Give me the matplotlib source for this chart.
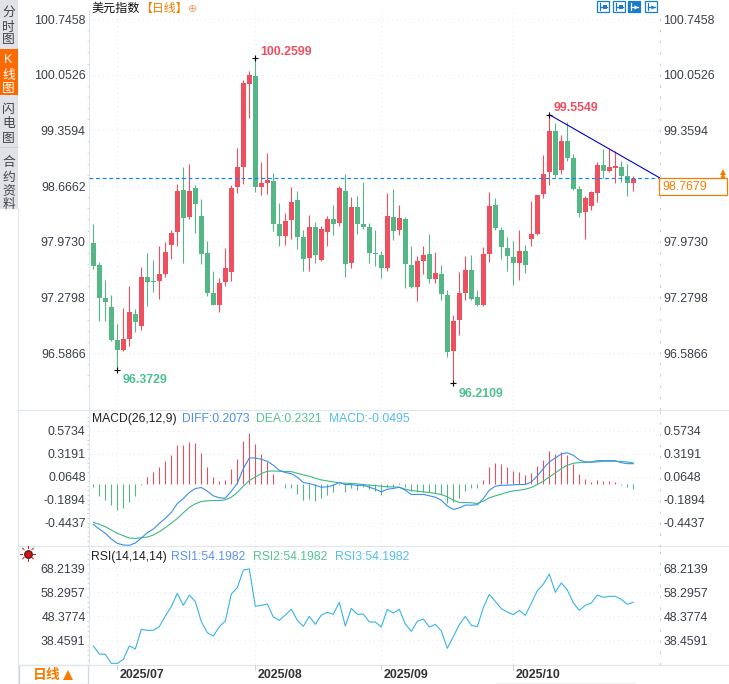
import matplotlib
matplotlib.use("Agg")
import matplotlib.pyplot as plt
from matplotlib.patches import Rectangle
from matplotlib.ticker import FixedLocator
import numpy as np

plt.rcParams["font.family"] = ["Liberation Sans", "Noto Sans CJK SC", "DejaVu Sans"]

# daily candles
open_ = [97.96, 97.68, 97.27, 97.16, 96.75, 96.62, 96.76, 97.07, 96.92, 97.53,
         97.48, 97.48, 97.57, 97.93, 98.09, 98.62, 98.28, 98.64, 98.29, 97.83,
         97.33, 97.18, 97.47, 97.60, 98.65, 98.90, 99.94, 100.04, 98.65, 98.70,
         98.73, 98.19, 98.04, 98.24, 98.49, 98.03, 97.77, 98.16, 97.75, 98.09,
         98.26, 98.21, 98.60, 97.71, 98.40, 98.19, 98.16, 97.83, 97.81, 97.65,
         98.28, 98.12, 98.26, 97.68, 97.41, 97.73, 97.82, 97.51, 97.57, 97.31,
         96.61, 97.00, 97.33, 97.62, 97.28, 97.18, 97.82, 98.43, 98.12, 97.89,
         97.78, 97.71, 97.86, 98.01, 98.07, 98.57, 98.84, 99.35, 98.87, 99.23,
         99.01, 98.63, 98.34, 98.42, 98.58, 98.93, 98.85, 98.89, 98.90, 98.79,
         98.70]
high = [98.19, 97.72, 97.50, 97.31, 96.95, 97.15, 97.42, 97.14, 97.66, 97.83,
        97.75, 97.92, 97.97, 98.12, 98.69, 98.90, 98.94, 98.68, 98.50, 97.98,
        97.61, 97.52, 97.89, 98.68, 99.14, 99.99, 100.10, 100.2599, 98.97, 99.08,
        98.83, 98.45, 98.33, 98.65, 98.60, 98.12, 98.31, 98.22, 98.17, 98.29,
        98.43, 98.67, 98.82, 98.53, 98.54, 98.72, 98.21, 98.12, 97.86, 98.58,
        98.63, 98.43, 98.28, 97.92, 97.80, 97.92, 98.07, 97.84, 97.68, 97.37,
        97.06, 97.60, 97.80, 97.81, 97.37, 97.91, 98.59, 98.52, 98.16, 98.03,
        97.98, 98.12, 97.93, 98.48, 98.56, 99.05, 99.5549, 99.45, 99.30, 99.46,
        99.06, 98.67, 98.54, 98.60, 98.97, 99.13, 99.13, 99.10, 98.98, 98.94,
        98.79]
low = [97.63, 96.99, 96.99, 96.74, 96.3729, 96.61, 96.67, 96.85, 96.87, 97.17,
       97.35, 97.26, 97.53, 97.76, 97.92, 97.71, 98.26, 98.08, 97.70, 97.30,
       97.18, 97.10, 97.42, 97.48, 98.58, 98.69, 99.51, 98.59, 98.55, 98.57,
       98.11, 97.92, 97.93, 98.01, 97.88, 97.61, 97.61, 97.71, 97.73, 97.92,
       98.06, 98.17, 97.53, 97.65, 98.07, 98.13, 97.71, 97.67, 97.52, 97.61,
       97.99, 98.06, 97.40, 97.40, 97.23, 97.57, 97.46, 97.46, 97.25, 96.54,
       96.2109, 96.81, 97.25, 97.25, 97.17, 97.17, 97.72, 98.12, 97.76, 97.61,
       97.43, 97.50, 97.58, 97.92, 98.06, 98.52, 98.68, 98.78, 98.82, 98.98,
       98.62, 98.28, 98.01, 98.37, 98.47, 98.77, 98.84, 98.70, 98.72, 98.54,
       98.60]
close = [97.67, 97.27, 97.22, 96.75, 96.62, 96.76, 97.10, 96.97, 97.53, 97.47,
         97.47, 97.57, 97.84, 98.08, 98.60, 98.27, 98.60, 98.44, 97.82, 97.33,
         97.18, 97.46, 97.65, 98.64, 98.90, 99.95, 100.05, 98.65, 98.70, 98.74,
         98.19, 98.04, 98.23, 98.47, 98.03, 97.76, 98.16, 97.81, 98.13, 98.26,
         98.19, 98.64, 97.70, 98.40, 98.19, 98.16, 97.83, 97.82, 97.65, 98.29,
         98.11, 98.27, 97.70, 97.41, 97.73, 97.81, 97.51, 97.58, 97.32, 96.60,
         96.99, 97.33, 97.62, 97.26, 97.18, 97.82, 98.42, 98.14, 97.91, 97.79,
         97.71, 97.86, 97.68, 98.07, 98.55, 98.82, 99.35, 98.80, 99.23, 99.01,
         98.63, 98.33, 98.52, 98.59, 98.93, 98.85, 98.90, 98.92, 98.79, 98.70,
         98.75]

diff = [-0.464, -0.516, -0.563, -0.626, -0.674, -0.692, -0.696, -0.670, -0.615, -0.556,
        -0.516, -0.453, -0.398, -0.332, -0.233, -0.178, -0.111, -0.067, -0.056, -0.097,
        -0.148, -0.170, -0.174, -0.097, -0.009, 0.153, 0.271, 0.271, 0.256, 0.234,
        0.190, 0.135, 0.109, 0.098, 0.058, -0.001, -0.012, -0.031, -0.053, -0.049,
        -0.031, -0.001, -0.023, -0.023, -0.034, -0.031, -0.053, -0.075, -0.104, -0.075,
        -0.067, -0.053, -0.086, -0.133, -0.133, -0.133, -0.148, -0.163, -0.196, -0.262,
        -0.299, -0.281, -0.251, -0.251, -0.247, -0.178, -0.086, -0.042, -0.031, -0.031,
        -0.027, -0.023, -0.023, 0.006, 0.072, 0.153, 0.227, 0.271, 0.315, 0.329,
        0.300, 0.249, 0.227, 0.227, 0.241, 0.241, 0.241, 0.241, 0.219, 0.208,
        0.2073]
dea = [-0.442, -0.464, -0.490, -0.527, -0.563, -0.589, -0.615, -0.619, -0.611, -0.604,
       -0.582, -0.545, -0.501, -0.450, -0.398, -0.336, -0.277, -0.236, -0.211, -0.203,
       -0.200, -0.200, -0.192, -0.163, -0.111, -0.042, 0.021, 0.061, 0.098, 0.124,
       0.127, 0.124, 0.120, 0.120, 0.102, 0.083, 0.069, 0.047, 0.028, 0.017,
       0.006, -0.005, -0.009, -0.012, -0.016, -0.023, -0.031, -0.034, -0.042, -0.049,
       -0.049, -0.053, -0.075, -0.089, -0.097, -0.104, -0.111, -0.122, -0.133, -0.159,
       -0.196, -0.222, -0.222, -0.225, -0.233, -0.207, -0.170, -0.148, -0.130, -0.108,
       -0.093, -0.086, -0.075, -0.056, -0.023, 0.013, 0.061, 0.105, 0.153, 0.190,
       0.212, 0.219, 0.223, 0.223, 0.227, 0.234, 0.234, 0.234, 0.230, 0.227,
       0.216]
hist = [-0.033, -0.125, -0.169, -0.235, -0.290, -0.265, -0.191, -0.132, -0.011, 0.085,
        0.140, 0.195, 0.261, 0.327, 0.437, 0.437, 0.470, 0.459, 0.349, 0.195,
        0.085, 0.040, 0.051, 0.173, 0.283, 0.481, 0.570, 0.448, 0.338, 0.250,
        0.118, -0.002, -0.044, -0.044, -0.103, -0.169, -0.158, -0.180, -0.147, -0.114,
        -0.081, -0.004, -0.081, -0.037, -0.059, -0.030, -0.051, -0.070, -0.118, -0.033,
        -0.033, 0.018, -0.033, -0.070, -0.081, -0.081, -0.081, -0.096, -0.118, -0.206,
        -0.191, -0.154, -0.070, -0.044, -0.044, 0.051, 0.195, 0.239, 0.228, 0.195,
        0.151, 0.140, 0.107, 0.129, 0.206, 0.272, 0.371, 0.338, 0.360, 0.327,
        0.228, 0.118, 0.062, 0.029, 0.051, 0.040, 0.040, 0.029, -0.004, -0.033,
        -0.0495]
rsi = [36.12, 32.81, 32.67, 28.95, 28.95, 30.61, 36.12, 34.88, 43.01, 42.59,
       42.59, 44.11, 48.52, 52.37, 57.88, 52.93, 57.19, 54.44, 46.17, 41.63,
       40.25, 44.11, 46.45, 57.61, 60.22, 67.53, 67.94, 52.51, 52.93, 53.47,
       48.10, 46.72, 48.93, 51.27, 46.72, 44.24, 48.38, 45.07, 48.93, 50.03,
       49.21, 54.16, 44.38, 51.68, 49.21, 49.34, 46.04, 46.04, 43.97, 51.27,
       49.76, 51.27, 45.21, 42.18, 46.31, 47.28, 43.97, 45.07, 42.32, 35.15,
       39.97, 44.93, 48.38, 44.66, 44.11, 51.96, 57.47, 54.57, 51.55, 50.17,
       49.07, 50.86, 48.79, 53.75, 58.99, 61.60, 65.87, 58.30, 62.15, 59.26,
       54.03, 50.86, 52.93, 53.89, 57.19, 56.23, 56.64, 56.64, 55.40, 53.34,
       54.20]

price_ticks = [100.7458, 100.0526, 99.3594, 98.6662, 97.9730, 97.2798, 96.5866]
macd_ticks = [0.5734, 0.3191, 0.0648, -0.1894, -0.4437]
rsi_ticks = [68.2139, 58.2957, 48.3774, 38.4591]
month_pos = [4, 27, 48, 70]
month_labels = ["2025/07", "2025/08", "2025/09", "2025/10"]
last_price = 98.7679
hist_base = -0.02
trend_x = [76, 94.45]
trend_y = [99.5549, 98.766]

RED = "#ee5060"
GREEN = "#55b786"
ORANGE = "#f57c00"
GRID = "#e9edf1"
EDGE = "#dfe6ec"
TEXT = "#3a3f4a"
FS = 8.9
HEAD = 8.7
W, H = 729, 684

fig = plt.figure(figsize=(W / 100, H / 100), dpi=100, facecolor="white")

# page furniture in pixel coordinates
bg = fig.add_axes([0, 0, 1, 1])
bg.set_xlim(0, W)
bg.set_ylim(H, 0)
bg.axis("off")
bg.add_patch(Rectangle((0, 0), 18, 209, color="#e0e2e8", lw=0))
bg.add_patch(Rectangle((0, 49), 18, 46, color="#ff6a00", lw=0))
bg.plot([0, 18], [147, 147], color="#cfd2d9", lw=0.8)
bg.plot([18.5, 18.5], [209, H], color=EDGE, lw=0.8)
for yy in [409.5, 546, 664.5]:
    bg.plot([18, W], [yy, yy], color=EDGE, lw=0.8)
bg.add_patch(Rectangle((19.5, 665), 69, 18.5, fc="white", ec="#cfd7df", lw=0.9))
bg.plot([496, 635], [682.5, 682.5], color="#eef0f2", lw=0.8)

side = [("分", 12.5), ("时", 27.5), ("图", 40.5), ("闪", 110.5), ("电", 124.5), ("图", 139),
        ("合", 162.5), ("约", 177.5), ("资", 192.5), ("料", 204.5)]
for ch, yy in side:
    bg.text(8.5, yy, ch, ha="center", va="center", fontsize=9.2, color="#444")
for ch, yy in [("K", 60), ("线", 76), ("图", 89)]:
    bg.text(8.5, yy, ch, ha="center", va="center", fontsize=9.2, color="white")

bg.text(91, 9, "美元指数", ha="left", va="center", fontsize=8.7, color="#111")
bg.text(139.8, 9, "【日线】", ha="left", va="center", fontsize=8.6, color=ORANGE)
bg.text(192.8, 9.5, "⊕", ha="center", va="center", fontsize=8, color="#f0a070", family="DejaVu Sans")

bg.text(92, 419, "MACD(26,12,9)", ha="left", va="center", fontsize=HEAD, color="#222")
bg.text(182, 419, "DIFF:0.2073", ha="left", va="center", fontsize=HEAD, color="#4a90f0")
bg.text(256, 419, "DEA:0.2321", ha="left", va="center", fontsize=HEAD, color="#55c490")
bg.text(329, 419, "MACD:-0.0495", ha="left", va="center", fontsize=HEAD, color="#55bdf0")
bg.text(91.5, 557, "RSI(14,14,14)", ha="left", va="center", fontsize=HEAD, color="#222")
bg.text(171, 557, "RSI1:54.1982", ha="left", va="center", fontsize=HEAD, color="#5b94f5")
bg.text(253, 557, "RSI2:54.1982", ha="left", va="center", fontsize=HEAD, color="#55c490")
bg.text(335, 557, "RSI3:54.1982", ha="left", va="center", fontsize=HEAD, color="#55bdf0")

# little sun icon next to the RSI panel
bg.plot([28], [553.5], "o", ms=5.5, mfc="#e01010", mec="#222", mew=0.8)
for ang in np.deg2rad(np.arange(0, 360, 45)):
    bg.plot([28 + 5.5 * np.cos(ang), 28 + 7.5 * np.cos(ang)],
            [553.5 + 5.5 * np.sin(ang), 553.5 + 7.5 * np.sin(ang)], color="#e01010", lw=0.7)

bg.text(33, 675, "日线", ha="left", va="center", fontsize=10, color=ORANGE, weight="bold")
bg.plot([68], [675], "^", ms=6.5, color=ORANGE, mew=0)

# toolbar buttons
for k, xx in enumerate([597, 613, 628, 645]):
    fc = "#1a7cc8" if k == 2 else "white"
    lc = "white" if k == 2 else "#1a7cc8"
    bg.add_patch(Rectangle((xx, 1), 12, 11, fc=fc, ec="#1a7cc8", lw=0.9))
    bg.plot([xx + 3, xx + 3], [3, 10], color=lc, lw=0.9)
    bg.plot([xx + 3, xx + 10], [6.5, 6.5], color=lc, lw=0.9)
    bg.plot([xx + 8], [6.5], ">" if k > 1 else "s", ms=3, color=lc, mew=0)


def pixel_axes(top, bottom):
    ax = fig.add_axes([89 / W, 1 - bottom / H, (660 - 89) / W, (bottom - top) / H])
    ax.patch.set_alpha(0)
    ax.set_xlim(-0.72, 94.45)
    for s in ["top", "bottom"]:
        ax.spines[s].set_visible(False)
    ax.spines["left"].set_color(EDGE)
    ax.spines["left"].set_linewidth(0.8)
    ax.spines["right"].set_color("#c9ced4")
    ax.spines["right"].set_linewidth(0.8)
    ax.spines["right"].set_linestyle((0, (1, 9)))
    ax.grid(True, which="major", color=GRID, lw=0.8, ls=(0, (1, 3)))
    ax.set_axisbelow(True)
    ax.set_xticks(month_pos)
    ax.set_xticklabels([])
    ax.tick_params(axis="x", length=0)
    ax.tick_params(axis="y", which="major", length=0, pad=2.5, labelsize=FS,
                   labelcolor=TEXT, labelleft=True, labelright=True)
    ax.tick_params(axis="y", which="minor", length=1.5, width=0.7, color="#c9d2da",
                   left=True, right=False)
    return ax


def set_ticks(ax, ticks, fmt):
    ax.set_yticks(ticks)
    ax.set_yticklabels([fmt % t for t in ticks])
    step = abs(ticks[0] - ticks[1]) / 5
    lo, hi = ax.get_ylim()
    n = int((hi - lo) / step) + 2
    ax.yaxis.set_minor_locator(FixedLocator([ticks[0] + step * (3 - k) for k in range(n)]))


x = np.arange(len(close))

# candles
ax = pixel_axes(10, 409)
ax.set_ylim(95.89, 100.858)
set_ticks(ax, price_ticks, "%.4f")
open_a, high_a, low_a, close_a = map(np.array, (open_, high, low, close))
colors = np.where(close_a >= open_a, RED, GREEN)
ax.vlines(x, low_a, high_a, colors=colors, lw=0.8, zorder=2)
ax.bar(x, np.abs(close_a - open_a), bottom=np.minimum(open_a, close_a), width=0.82,
       color=colors, lw=0, zorder=3)
ax.axhline(last_price, color="#0a84ff", lw=0.85, ls=(0, (3.2, 2.4)), zorder=4)
ax.plot(trend_x, trend_y, color="#0000d0", lw=0.8, zorder=5)

peaks = [(27, high[27], "100.2599", RED, 5, 6), (76, high[76], "99.5549", RED, 4, 7),
         (4, low[4], "96.3729", "#4fbf8f", 5, -10), (60, low[60], "96.2109", "#4fbf8f", 5, -11)]
for i, val, txt, col, dx, dy in peaks:
    ax.plot([i], [val], "+", color="black", ms=5, mew=0.8, zorder=6)
    ax.annotate(txt, (i, val), xytext=(dx, dy), textcoords="offset pixels", ha="left",
                va="center", fontsize=FS, color=col, weight="bold", zorder=6)

# MACD
ax2 = pixel_axes(409.5, 546)
ax2.set_ylim(-0.7033, 0.8071)
set_ticks(ax2, macd_ticks, "%.4f")
hist_a = np.array(hist)
ax2.vlines(x, hist_base, hist_base + hist_a, colors=np.where(hist_a >= 0, "#e0525f", "#56b58a"),
           lw=0.8, zorder=2)
ax2.plot(x, dea, color="#3dba82", lw=0.8, zorder=3)
ax2.plot(x, diff, color="#3a8ff0", lw=0.8, zorder=4)

# RSI
ax3 = pixel_axes(546, 664)
ax3.set_ylim(28.68, 77.44)
set_ticks(ax3, rsi_ticks, "%.4f")
ax3.plot(x, rsi, color="#38b4e8", lw=0.8)
ax3.tick_params(axis="x", length=4, width=0.8, color="#d0d6dc")
for pos, lab in zip(month_pos, month_labels):
    ax3.annotate(lab, (pos, 0), xycoords=("data", "axes fraction"), xytext=(1.5, -8),
                 textcoords="offset points", ha="left", va="center", fontsize=FS,
                 weight="bold", color="#333")

# current price tag sits above the right tick labels
fg = fig.add_axes([0, 0, 1, 1], zorder=10)
fg.set_xlim(0, W)
fg.set_ylim(H, 0)
fg.axis("off")
fg.add_patch(Rectangle((659.5, 178), 68, 17, fc="white", ec=ORANGE, lw=0.9))
fg.text(662, 187, "98.7679", ha="left", va="center", fontsize=FS, color=ORANGE)
fg.plot([723, 723], [171.5, 175.5], "^", ms=5, color=ORANGE, mew=0)

fig.savefig("out.png", dpi=100)
